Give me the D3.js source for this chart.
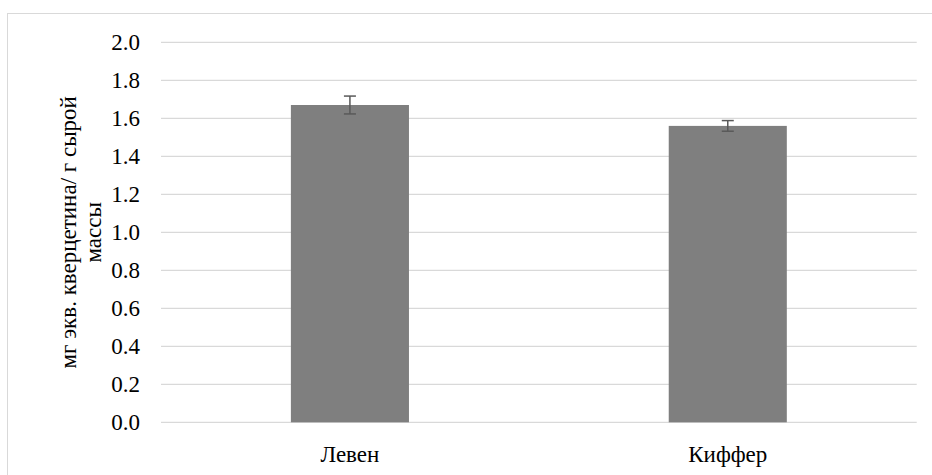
<!DOCTYPE html>
<html><head><meta charset="utf-8">
<script src="https://cdn.jsdelivr.net/npm/d3@7"></script>
<style>body{margin:0;background:#fff;font-family:"Liberation Serif",serif}svg{display:block}</style>
</head><body>
<svg id="chart" width="932" height="475" style="font-family:'Liberation Serif',serif"></svg>
<script>
const categories = ["Левен", "Киффер"];
const values = [1.67, 1.56];
const errors = [0.047, 0.028];
const yTicks = [0, 0.2, 0.4, 0.6, 0.8, 1.0, 1.2, 1.4, 1.6, 1.8, 2.0];
const yTitle = ["мг экв. кверцетина/ г сырой", "массы"];

function draw() {
  const svg = d3.select("#chart");
  const FF = "Liberation Serif";
  const fs = 23;

  svg.append("rect").attr("x", 7.5).attr("y", 13.5).attr("width", 940).attr("height", 480)
    .attr("fill", "#fff").attr("stroke", "#d9d9d9").attr("stroke-width", 1);

  const x0 = 161, x1 = 916.7, yTop = 42.3, yBot = 422.3;
  const x = d3.scaleBand().domain(categories).range([x0, x1]).padding(0);
  const y = d3.scaleLinear().domain([0, 2]).range([yBot, yTop]);

  svg.append("g").selectAll("line").data(yTicks).join("line")
    .attr("x1", x0).attr("x2", x1)
    .attr("y1", d => y(d)).attr("y2", d => y(d))
    .attr("stroke", "#d9d9d9").attr("stroke-width", 1.3);

  svg.append("g").selectAll("text").data(yTicks).join("text")
    .attr("x", 140).attr("y", d => y(d)).attr("dy", "0.35em")
    .attr("text-anchor", "end").attr("font-family", FF).attr("font-size", fs)
    .attr("fill", "#000").text(d => d.toFixed(1));

  const bw = x.bandwidth() * 0.3125;
  const data = categories.map((c, i) => ({c, v: values[i], e: errors[i]}));
  svg.append("g").selectAll("rect").data(data).join("rect")
    .attr("x", d => x(d.c) + x.bandwidth() / 2 - bw / 2)
    .attr("width", bw)
    .attr("y", d => y(d.v)).attr("height", d => y(0) - y(d.v))
    .attr("fill", "#7f7f7f");

  const eg = svg.append("g").attr("stroke", "#595959").attr("stroke-width", 1.5);
  data.forEach(d => {
    const cx = x(d.c) + x.bandwidth() / 2;
    eg.append("line").attr("x1", cx).attr("x2", cx).attr("y1", y(d.v + d.e)).attr("y2", y(d.v - d.e));
    eg.append("line").attr("x1", cx - 6).attr("x2", cx + 6).attr("y1", y(d.v + d.e)).attr("y2", y(d.v + d.e));
    eg.append("line").attr("x1", cx - 6).attr("x2", cx + 6).attr("y1", y(d.v - d.e)).attr("y2", y(d.v - d.e));
  });

  svg.append("g").selectAll("text").data(categories).join("text")
    .attr("x", d => x(d) + x.bandwidth() / 2).attr("y", 462)
    .attr("text-anchor", "middle").attr("font-family", FF).attr("font-size", fs)
    .attr("fill", "#000").text(d => d);

  const cy = (yTop + yBot) / 2;
  const t = svg.append("text").attr("transform", `translate(0,${cy}) rotate(-90)`)
    .attr("text-anchor", "middle").attr("font-family", FF).attr("font-size", fs).attr("fill", "#000");
  yTitle.forEach((s, i) => t.append("tspan").attr("x", 0).attr("y", 76 + i * 25).text(s));
}
draw();
if (document.fonts && document.fonts.load) {
  document.fonts.load('23px "Liberation Serif"', "Левен 0.0").then(() => {
    d3.select("#chart").selectAll("*").remove();
    draw();
  });
}
</script>
</body></html>
